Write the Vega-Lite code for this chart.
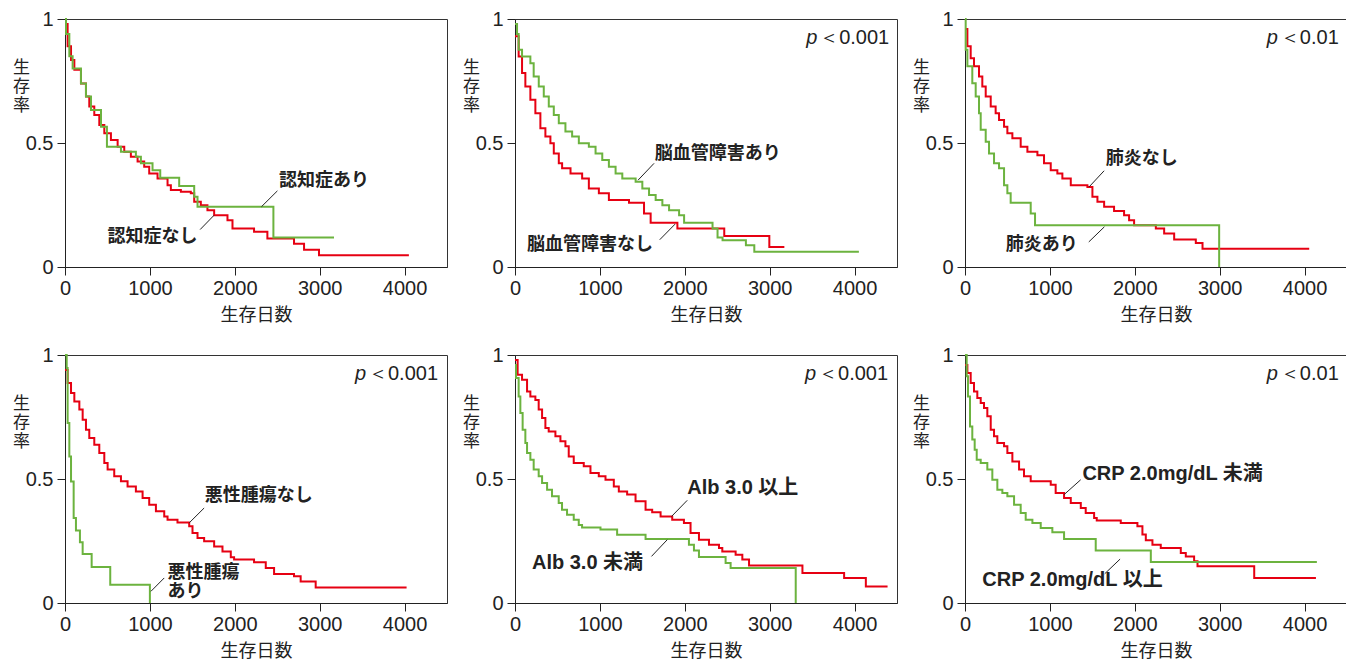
{
  "$schema": "https://vega.github.io/schema/vega-lite/v6.json",
  "autosize": {"type": "pad"},
  "padding": {"left": 12, "top": 7, "right": 0, "bottom": 0},
  "background": "white",
  "config": {
    "view": {"stroke": "#333", "strokeWidth": 1},
    "header": {"labels": false, "labelExpr": "''", "labelFontSize": 1, "labelPadding": 0, "titlePadding": 0},
    "headerFacet": {"labels": false, "labelExpr": "''", "labelFontSize": 1, "labelPadding": 0},
    "axis": {"domainColor": "#222", "tickColor": "#222", "tickSize": 8, "labelFont": "Liberation Sans", "labelFontSize": 20, "labelColor": "#222", "titleFont": "Noto Sans CJK JP", "titleFontSize": 18, "titleFontWeight": "normal", "titleColor": "#222", "grid": false},
    "axisX": {"labelFlush": false, "labelPadding": 3, "titlePadding": 8},
    "axisY": {"labelPadding": 4, "titleAngle": 0, "titleX": -44, "titleY": 40, "titleAlign": "center", "titleBaseline": "top", "titleFontSize": 17, "titleLineHeight": 19}
  },
  "data": {"values": [
    {"p":1,"k":"r","x":0,"y":0.98},{"p":1,"k":"r","x":31,"y":0.89},{"p":1,"k":"r","x":71,"y":0.835},{"p":1,"k":"r","x":110,"y":0.795},{"p":1,"k":"r","x":188,"y":0.74},{"p":1,"k":"r","x":247,"y":0.687},{"p":1,"k":"r","x":286,"y":0.647},{"p":1,"k":"r","x":345,"y":0.613},{"p":1,"k":"r","x":404,"y":0.573},{"p":1,"k":"r","x":463,"y":0.539},{"p":1,"k":"r","x":541,"y":0.512},{"p":1,"k":"r","x":620,"y":0.485},{"p":1,"k":"r","x":698,"y":0.465},{"p":1,"k":"r","x":776,"y":0.445},{"p":1,"k":"r","x":855,"y":0.425},{"p":1,"k":"r","x":933,"y":0.404},{"p":1,"k":"r","x":992,"y":0.377},{"p":1,"k":"r","x":1090,"y":0.357},{"p":1,"k":"r","x":1208,"y":0.33},{"p":1,"k":"r","x":1247,"y":0.31},{"p":1,"k":"r","x":1365,"y":0.303},{"p":1,"k":"r","x":1482,"y":0.297},{"p":1,"k":"r","x":1522,"y":0.263},{"p":1,"k":"r","x":1600,"y":0.249},{"p":1,"k":"r","x":1678,"y":0.229},{"p":1,"k":"r","x":1757,"y":0.209},{"p":1,"k":"r","x":1914,"y":0.189},{"p":1,"k":"r","x":1973,"y":0.155},{"p":1,"k":"r","x":2227,"y":0.142},{"p":1,"k":"r","x":2384,"y":0.115},{"p":1,"k":"r","x":2698,"y":0.094},{"p":1,"k":"r","x":2816,"y":0.07},{"p":1,"k":"r","x":2992,"y":0.047},{"p":1,"k":"r","x":4051,"y":0.047},
    {"p":1,"k":"g","x":0,"y":1},{"p":1,"k":"g","x":12,"y":0.94},{"p":1,"k":"g","x":51,"y":0.85},{"p":1,"k":"g","x":90,"y":0.8},{"p":1,"k":"g","x":188,"y":0.74},{"p":1,"k":"g","x":247,"y":0.687},{"p":1,"k":"g","x":306,"y":0.633},{"p":1,"k":"g","x":424,"y":0.566},{"p":1,"k":"g","x":494,"y":0.485},{"p":1,"k":"g","x":659,"y":0.465},{"p":1,"k":"g","x":835,"y":0.445},{"p":1,"k":"g","x":894,"y":0.418},{"p":1,"k":"g","x":1031,"y":0.39},{"p":1,"k":"g","x":1122,"y":0.36},{"p":1,"k":"g","x":1345,"y":0.327},{"p":1,"k":"g","x":1522,"y":0.283},{"p":1,"k":"g","x":1561,"y":0.243},{"p":1,"k":"g","x":2455,"y":0.119},{"p":1,"k":"g","x":3169,"y":0.119},
    {"p":1,"k":"l","x":2522,"y":0.346,"t":"認知症あり"},{"p":1,"k":"l","x":502,"y":0.121,"t":"認知症なし"},
    {"p":1,"k":"c","x":2502,"y":0.307,"x2":2314,"y2":0.243},{"p":1,"k":"c","x":1592,"y":0.151,"x2":1757,"y2":0.209},

    {"p":2,"k":"r","x":0,"y":0.93},{"p":2,"k":"r","x":43,"y":0.849},{"p":2,"k":"r","x":83,"y":0.782},{"p":2,"k":"r","x":122,"y":0.728},{"p":2,"k":"r","x":181,"y":0.674},{"p":2,"k":"r","x":240,"y":0.62},{"p":2,"k":"r","x":299,"y":0.559},{"p":2,"k":"r","x":358,"y":0.526},{"p":2,"k":"r","x":417,"y":0.499},{"p":2,"k":"r","x":457,"y":0.458},{"p":2,"k":"r","x":516,"y":0.418},{"p":2,"k":"r","x":555,"y":0.398},{"p":2,"k":"r","x":654,"y":0.377},{"p":2,"k":"r","x":791,"y":0.357},{"p":2,"k":"r","x":870,"y":0.317},{"p":2,"k":"r","x":988,"y":0.297},{"p":2,"k":"r","x":1106,"y":0.27},{"p":2,"k":"r","x":1343,"y":0.259},{"p":2,"k":"r","x":1520,"y":0.216},{"p":2,"k":"r","x":1598,"y":0.178},{"p":2,"k":"r","x":1913,"y":0.155},{"p":2,"k":"r","x":2465,"y":0.125},{"p":2,"k":"r","x":2996,"y":0.081},{"p":2,"k":"r","x":3173,"y":0.081},
    {"p":2,"k":"g","x":0,"y":0.98},{"p":2,"k":"g","x":24,"y":0.94},{"p":2,"k":"g","x":43,"y":0.876},{"p":2,"k":"g","x":83,"y":0.849},{"p":2,"k":"g","x":181,"y":0.822},{"p":2,"k":"g","x":220,"y":0.768},{"p":2,"k":"g","x":280,"y":0.728},{"p":2,"k":"g","x":339,"y":0.687},{"p":2,"k":"g","x":398,"y":0.647},{"p":2,"k":"g","x":457,"y":0.613},{"p":2,"k":"g","x":516,"y":0.58},{"p":2,"k":"g","x":594,"y":0.546},{"p":2,"k":"g","x":673,"y":0.526},{"p":2,"k":"g","x":752,"y":0.499},{"p":2,"k":"g","x":870,"y":0.485},{"p":2,"k":"g","x":949,"y":0.458},{"p":2,"k":"g","x":1028,"y":0.431},{"p":2,"k":"g","x":1106,"y":0.404},{"p":2,"k":"g","x":1185,"y":0.377},{"p":2,"k":"g","x":1264,"y":0.357},{"p":2,"k":"g","x":1421,"y":0.344},{"p":2,"k":"g","x":1500,"y":0.317},{"p":2,"k":"g","x":1579,"y":0.29},{"p":2,"k":"g","x":1657,"y":0.27},{"p":2,"k":"g","x":1736,"y":0.249},{"p":2,"k":"g","x":1815,"y":0.229},{"p":2,"k":"g","x":1933,"y":0.209},{"p":2,"k":"g","x":1992,"y":0.178},{"p":2,"k":"g","x":2327,"y":0.155},{"p":2,"k":"g","x":2386,"y":0.119},{"p":2,"k":"g","x":2445,"y":0.108},{"p":2,"k":"g","x":2720,"y":0.088},{"p":2,"k":"g","x":2819,"y":0.061},{"p":2,"k":"g","x":4051,"y":0.061},
    {"p":2,"k":"l","x":1646,"y":0.455,"t":"脳血管障害あり"},{"p":2,"k":"l","x":142,"y":0.088,"t":"脳血管障害なし"},
    {"p":2,"k":"c","x":1638,"y":0.418,"x2":1449,"y2":0.35},{"p":2,"k":"c","x":1705,"y":0.11,"x2":1886,"y2":0.173},
    {"p":2,"k":"p","x":3430,"y":0.923,"t":"＜0.001"},

    {"p":3,"k":"r","x":0,"y":0.96},{"p":3,"k":"r","x":28,"y":0.89},{"p":3,"k":"r","x":67,"y":0.842},{"p":3,"k":"r","x":106,"y":0.809},{"p":3,"k":"r","x":165,"y":0.768},{"p":3,"k":"r","x":204,"y":0.728},{"p":3,"k":"r","x":244,"y":0.687},{"p":3,"k":"r","x":303,"y":0.647},{"p":3,"k":"r","x":361,"y":0.62},{"p":3,"k":"r","x":401,"y":0.593},{"p":3,"k":"r","x":460,"y":0.566},{"p":3,"k":"r","x":499,"y":0.539},{"p":3,"k":"r","x":558,"y":0.519},{"p":3,"k":"r","x":656,"y":0.485},{"p":3,"k":"r","x":735,"y":0.465},{"p":3,"k":"r","x":853,"y":0.451},{"p":3,"k":"r","x":931,"y":0.418},{"p":3,"k":"r","x":1010,"y":0.39},{"p":3,"k":"r","x":1088,"y":0.377},{"p":3,"k":"r","x":1147,"y":0.357},{"p":3,"k":"r","x":1246,"y":0.33},{"p":3,"k":"r","x":1442,"y":0.323},{"p":3,"k":"r","x":1501,"y":0.283},{"p":3,"k":"r","x":1560,"y":0.263},{"p":3,"k":"r","x":1639,"y":0.243},{"p":3,"k":"r","x":1756,"y":0.226},{"p":3,"k":"r","x":1874,"y":0.209},{"p":3,"k":"r","x":1933,"y":0.189},{"p":3,"k":"r","x":1992,"y":0.168},{"p":3,"k":"r","x":2248,"y":0.155},{"p":3,"k":"r","x":2346,"y":0.135},{"p":3,"k":"r","x":2464,"y":0.111},{"p":3,"k":"r","x":2719,"y":0.097},{"p":3,"k":"r","x":2798,"y":0.074},{"p":3,"k":"r","x":4055,"y":0.074},
    {"p":3,"k":"g","x":0,"y":1},{"p":3,"k":"g","x":8,"y":0.876},{"p":3,"k":"g","x":28,"y":0.809},{"p":3,"k":"g","x":86,"y":0.741},{"p":3,"k":"g","x":126,"y":0.687},{"p":3,"k":"g","x":165,"y":0.62},{"p":3,"k":"g","x":185,"y":0.553},{"p":3,"k":"g","x":244,"y":0.505},{"p":3,"k":"g","x":283,"y":0.458},{"p":3,"k":"g","x":342,"y":0.418},{"p":3,"k":"g","x":401,"y":0.398},{"p":3,"k":"g","x":460,"y":0.33},{"p":3,"k":"g","x":499,"y":0.297},{"p":3,"k":"g","x":538,"y":0.259},{"p":3,"k":"g","x":774,"y":0.216},{"p":3,"k":"g","x":825,"y":0.168},{"p":3,"k":"g","x":2994,"y":0},
    {"p":3,"k":"l","x":1658,"y":0.434,"t":"肺炎なし"},{"p":3,"k":"l","x":479,"y":0.088,"t":"肺炎あり"},
    {"p":3,"k":"c","x":1639,"y":0.388,"x2":1462,"y2":0.323},{"p":3,"k":"c","x":1458,"y":0.101,"x2":1642,"y2":0.162},
    {"p":3,"k":"p","x":3556,"y":0.923,"t":"＜0.01"},

    {"p":4,"k":"r","x":0,"y":0.94},{"p":4,"k":"r","x":31,"y":0.887},{"p":4,"k":"r","x":71,"y":0.847},{"p":4,"k":"r","x":110,"y":0.813},{"p":4,"k":"r","x":169,"y":0.78},{"p":4,"k":"r","x":208,"y":0.739},{"p":4,"k":"r","x":247,"y":0.699},{"p":4,"k":"r","x":286,"y":0.665},{"p":4,"k":"r","x":345,"y":0.638},{"p":4,"k":"r","x":404,"y":0.605},{"p":4,"k":"r","x":463,"y":0.565},{"p":4,"k":"r","x":502,"y":0.538},{"p":4,"k":"r","x":580,"y":0.511},{"p":4,"k":"r","x":659,"y":0.491},{"p":4,"k":"r","x":737,"y":0.47},{"p":4,"k":"r","x":835,"y":0.45},{"p":4,"k":"r","x":914,"y":0.423},{"p":4,"k":"r","x":992,"y":0.396},{"p":4,"k":"r","x":1071,"y":0.37},{"p":4,"k":"r","x":1169,"y":0.349},{"p":4,"k":"r","x":1208,"y":0.336},{"p":4,"k":"r","x":1325,"y":0.325},{"p":4,"k":"r","x":1463,"y":0.309},{"p":4,"k":"r","x":1502,"y":0.282},{"p":4,"k":"r","x":1561,"y":0.262},{"p":4,"k":"r","x":1639,"y":0.249},{"p":4,"k":"r","x":1757,"y":0.228},{"p":4,"k":"r","x":1855,"y":0.208},{"p":4,"k":"r","x":1953,"y":0.184},{"p":4,"k":"r","x":1992,"y":0.175},{"p":4,"k":"r","x":2227,"y":0.164},{"p":4,"k":"r","x":2365,"y":0.141},{"p":4,"k":"r","x":2463,"y":0.117},{"p":4,"k":"r","x":2698,"y":0.108},{"p":4,"k":"r","x":2776,"y":0.087},{"p":4,"k":"r","x":2953,"y":0.063},{"p":4,"k":"r","x":4024,"y":0.063},
    {"p":4,"k":"g","x":0,"y":1},{"p":4,"k":"g","x":20,"y":0.948},{"p":4,"k":"g","x":31,"y":0.726},{"p":4,"k":"g","x":51,"y":0.591},{"p":4,"k":"g","x":71,"y":0.49},{"p":4,"k":"g","x":102,"y":0.343},{"p":4,"k":"g","x":129,"y":0.292},{"p":4,"k":"g","x":176,"y":0.245},{"p":4,"k":"g","x":208,"y":0.198},{"p":4,"k":"g","x":314,"y":0.145},{"p":4,"k":"g","x":533,"y":0.074},{"p":4,"k":"g","x":1000,"y":0},
    {"p":4,"k":"l","x":1647,"y":0.43,"t":"悪性腫瘍なし"},{"p":4,"k":"l","x":1208,"y":0.122,"t":"悪性腫瘍"},{"p":4,"k":"l","x":1208,"y":0.043,"t":"あり"},
    {"p":4,"k":"c","x":1639,"y":0.383,"x2":1463,"y2":0.323},{"p":4,"k":"c","x":1169,"y":0.101,"x2":1012,"y2":0.047},
    {"p":4,"k":"p","x":3416,"y":0.923,"t":"＜0.001"},

    {"p":5,"k":"r","x":0,"y":0.98},{"p":5,"k":"r","x":31,"y":0.92},{"p":5,"k":"r","x":83,"y":0.9},{"p":5,"k":"r","x":142,"y":0.853},{"p":5,"k":"r","x":181,"y":0.833},{"p":5,"k":"r","x":240,"y":0.819},{"p":5,"k":"r","x":279,"y":0.78},{"p":5,"k":"r","x":319,"y":0.746},{"p":5,"k":"r","x":358,"y":0.706},{"p":5,"k":"r","x":397,"y":0.692},{"p":5,"k":"r","x":476,"y":0.672},{"p":5,"k":"r","x":535,"y":0.652},{"p":5,"k":"r","x":594,"y":0.632},{"p":5,"k":"r","x":633,"y":0.591},{"p":5,"k":"r","x":692,"y":0.565},{"p":5,"k":"r","x":810,"y":0.551},{"p":5,"k":"r","x":889,"y":0.524},{"p":5,"k":"r","x":987,"y":0.511},{"p":5,"k":"r","x":1066,"y":0.497},{"p":5,"k":"r","x":1164,"y":0.47},{"p":5,"k":"r","x":1223,"y":0.45},{"p":5,"k":"r","x":1321,"y":0.437},{"p":5,"k":"r","x":1420,"y":0.41},{"p":5,"k":"r","x":1538,"y":0.376},{"p":5,"k":"r","x":1616,"y":0.366},{"p":5,"k":"r","x":1715,"y":0.349},{"p":5,"k":"r","x":1852,"y":0.336},{"p":5,"k":"r","x":1990,"y":0.323},{"p":5,"k":"r","x":2068,"y":0.282},{"p":5,"k":"r","x":2167,"y":0.255},{"p":5,"k":"r","x":2285,"y":0.235},{"p":5,"k":"r","x":2403,"y":0.222},{"p":5,"k":"r","x":2442,"y":0.208},{"p":5,"k":"r","x":2599,"y":0.195},{"p":5,"k":"r","x":2678,"y":0.175},{"p":5,"k":"r","x":2757,"y":0.151},{"p":5,"k":"r","x":3386,"y":0.121},{"p":5,"k":"r","x":3877,"y":0.101},{"p":5,"k":"r","x":4133,"y":0.067},{"p":5,"k":"r","x":4389,"y":0.067},
    {"p":5,"k":"g","x":0,"y":0.96},{"p":5,"k":"g","x":12,"y":0.907},{"p":5,"k":"g","x":43,"y":0.833},{"p":5,"k":"g","x":63,"y":0.766},{"p":5,"k":"g","x":90,"y":0.699},{"p":5,"k":"g","x":122,"y":0.645},{"p":5,"k":"g","x":142,"y":0.605},{"p":5,"k":"g","x":181,"y":0.578},{"p":5,"k":"g","x":220,"y":0.538},{"p":5,"k":"g","x":279,"y":0.511},{"p":5,"k":"g","x":319,"y":0.484},{"p":5,"k":"g","x":378,"y":0.457},{"p":5,"k":"g","x":436,"y":0.43},{"p":5,"k":"g","x":515,"y":0.403},{"p":5,"k":"g","x":554,"y":0.376},{"p":5,"k":"g","x":613,"y":0.356},{"p":5,"k":"g","x":692,"y":0.336},{"p":5,"k":"g","x":751,"y":0.315},{"p":5,"k":"g","x":790,"y":0.304},{"p":5,"k":"g","x":1007,"y":0.296},{"p":5,"k":"g","x":1203,"y":0.275},{"p":5,"k":"g","x":1538,"y":0.258},{"p":5,"k":"g","x":2049,"y":0.235},{"p":5,"k":"g","x":2108,"y":0.212},{"p":5,"k":"g","x":2167,"y":0.185},{"p":5,"k":"g","x":2481,"y":0.161},{"p":5,"k":"g","x":2540,"y":0.141},{"p":5,"k":"g","x":3307,"y":0},
    {"p":5,"k":"m","x":2029,"y":0.462,"t":"Alb 3.0 以上"},{"p":5,"k":"m","x":200,"y":0.161,"t":"Alb 3.0 未満"},
    {"p":5,"k":"c","x":2029,"y":0.414,"x2":1844,"y2":0.349},{"p":5,"k":"c","x":1608,"y":0.188,"x2":1793,"y2":0.255},
    {"p":5,"k":"p","x":3417,"y":0.923,"t":"＜0.001"},

    {"p":6,"k":"r","x":0,"y":0.96},{"p":6,"k":"r","x":28,"y":0.927},{"p":6,"k":"r","x":67,"y":0.887},{"p":6,"k":"r","x":106,"y":0.853},{"p":6,"k":"r","x":145,"y":0.827},{"p":6,"k":"r","x":185,"y":0.806},{"p":6,"k":"r","x":224,"y":0.786},{"p":6,"k":"r","x":263,"y":0.753},{"p":6,"k":"r","x":303,"y":0.699},{"p":6,"k":"r","x":342,"y":0.672},{"p":6,"k":"r","x":381,"y":0.645},{"p":6,"k":"r","x":460,"y":0.632},{"p":6,"k":"r","x":499,"y":0.605},{"p":6,"k":"r","x":558,"y":0.571},{"p":6,"k":"r","x":637,"y":0.538},{"p":6,"k":"r","x":695,"y":0.511},{"p":6,"k":"r","x":774,"y":0.491},{"p":6,"k":"r","x":1010,"y":0.477},{"p":6,"k":"r","x":1068,"y":0.444},{"p":6,"k":"r","x":1167,"y":0.423},{"p":6,"k":"r","x":1246,"y":0.403},{"p":6,"k":"r","x":1364,"y":0.383},{"p":6,"k":"r","x":1422,"y":0.363},{"p":6,"k":"r","x":1521,"y":0.343},{"p":6,"k":"r","x":1552,"y":0.333},{"p":6,"k":"r","x":1835,"y":0.323},{"p":6,"k":"r","x":2031,"y":0.309},{"p":6,"k":"r","x":2090,"y":0.276},{"p":6,"k":"r","x":2130,"y":0.253},{"p":6,"k":"r","x":2208,"y":0.235},{"p":6,"k":"r","x":2306,"y":0.222},{"p":6,"k":"r","x":2542,"y":0.202},{"p":6,"k":"r","x":2601,"y":0.188},{"p":6,"k":"r","x":2699,"y":0.168},{"p":6,"k":"r","x":2739,"y":0.148},{"p":6,"k":"r","x":3407,"y":0.101},{"p":6,"k":"r","x":4134,"y":0.101},
    {"p":6,"k":"g","x":0,"y":1},{"p":6,"k":"g","x":20,"y":0.914},{"p":6,"k":"g","x":35,"y":0.833},{"p":6,"k":"g","x":59,"y":0.712},{"p":6,"k":"g","x":86,"y":0.659},{"p":6,"k":"g","x":114,"y":0.618},{"p":6,"k":"g","x":138,"y":0.578},{"p":6,"k":"g","x":185,"y":0.565},{"p":6,"k":"g","x":263,"y":0.538},{"p":6,"k":"g","x":322,"y":0.497},{"p":6,"k":"g","x":381,"y":0.457},{"p":6,"k":"g","x":440,"y":0.444},{"p":6,"k":"g","x":499,"y":0.43},{"p":6,"k":"g","x":578,"y":0.396},{"p":6,"k":"g","x":656,"y":0.363},{"p":6,"k":"g","x":715,"y":0.336},{"p":6,"k":"g","x":794,"y":0.323},{"p":6,"k":"g","x":892,"y":0.302},{"p":6,"k":"g","x":1029,"y":0.285},{"p":6,"k":"g","x":1167,"y":0.258},{"p":6,"k":"g","x":1540,"y":0.212},{"p":6,"k":"g","x":2189,"y":0.165},{"p":6,"k":"g","x":4145,"y":0.165},
    {"p":6,"k":"m","x":1383,"y":0.52,"t":"CRP 2.0mg/dL 未満"},{"p":6,"k":"m","x":204,"y":0.094,"t":"CRP 2.0mg/dL 以上"},
    {"p":6,"k":"c","x":1363,"y":0.497,"x2":1167,"y2":0.437},{"p":6,"k":"c","x":1646,"y":0.118,"x2":1827,"y2":0.177},
    {"p":6,"k":"p","x":3556,"y":0.923,"t":"＜0.01"}
  ]},
  "facet": {"field": "p", "type": "ordinal", "title": null, "header": {"labels": false, "labelExpr": "''", "labelFontSize": 1, "labelPadding": 0}},
  "columns": 3,
  "bounds": "flush",
  "spacing": {"row": 88, "column": 68},
  "resolve": {"axis": {"x": "independent", "y": "independent"}},
  "spec": {
    "width": 382,
    "height": 248,
    "encoding": {
      "x": {"field": "x", "type": "quantitative", "scale": {"domain": [0, 4500], "nice": false, "zero": false}, "axis": {"values": [0, 1000, 2000, 3000, 4000], "format": "d", "title": "生存日数"}},
      "y": {"field": "y", "type": "quantitative", "scale": {"domain": [0, 1], "nice": false}, "axis": {"values": [0, 0.5, 1], "format": "~g", "title": ["生", "存", "率"]}}
    },
    "layer": [
      {"transform": [{"filter": "datum.k == 'r'"}], "mark": {"type": "line", "interpolate": "step-after", "color": "#e60012", "strokeWidth": 2}},
      {"transform": [{"filter": "datum.k == 'g'"}], "mark": {"type": "line", "interpolate": "step-after", "color": "#6cb33f", "strokeWidth": 2}},
      {"transform": [{"filter": "datum.k == 'c'"}], "mark": {"type": "rule", "color": "#222", "strokeWidth": 1}, "encoding": {"x2": {"field": "x2"}, "y2": {"field": "y2"}}},
      {"transform": [{"filter": "datum.k == 'l'"}], "mark": {"type": "text", "align": "left", "baseline": "middle", "font": "Noto Sans CJK JP", "fontWeight": "bold", "fontSize": 18, "color": "#222"}, "encoding": {"text": {"field": "t"}}},
      {"transform": [{"filter": "datum.k == 'm'"}], "mark": {"type": "text", "align": "left", "baseline": "middle", "font": "Liberation Sans, Noto Sans CJK JP", "fontWeight": "bold", "fontSize": 20, "color": "#222"}, "encoding": {"text": {"field": "t"}}},
      {"transform": [{"filter": "datum.k == 'p'"}], "mark": {"type": "text", "align": "left", "baseline": "middle", "font": "Liberation Sans", "fontStyle": "italic", "fontSize": 20, "color": "#222"}, "encoding": {"text": {"value": "p"}}},
      {"transform": [{"filter": "datum.k == 'p'"}], "mark": {"type": "text", "align": "left", "baseline": "middle", "dx": 13, "font": "Liberation Sans", "fontSize": 20, "color": "#222"}, "encoding": {"text": {"field": "t"}}}
    ]
  }
}
